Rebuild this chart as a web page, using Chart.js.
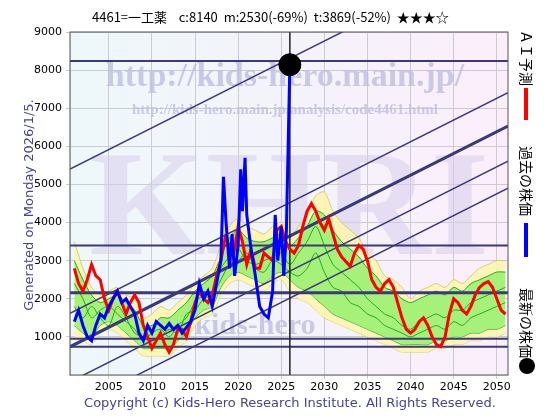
<!DOCTYPE html>
<html><head><meta charset="utf-8">
<script src="https://cdn.jsdelivr.net/npm/chart.js@4"></script>
<style>body{margin:0;background:#fff}#c{display:block}</style>
</head><body>
<div style="width:560px;height:420px"><canvas id="c" width="560" height="420"></canvas></div>
<script>
var X0 = 2000.5, X1 = 2051.3;
var xTicks = [2005, 2010, 2015, 2020, 2025, 2030, 2035, 2040, 2045, 2050];
var yTicks = [1000, 2000, 3000, 4000, 5000, 6000, 7000, 8000, 9000];

var pastYears = [2001,2001.5,2002,2002.5,2003,2003.5,2004,2004.5,2005,2005.5,2006,2006.5,2007,2007.5,2008,2008.5,2009,2009.5,2010,2010.5,2011,2011.5,2012,2012.5,2013,2013.5,2014,2014.5,2015,2015.5,2016,2016.5,2017,2017.5,2018,2018.3,2018.6,2019,2019.3,2019.6,2020,2020.3,2020.5,2020.8,2021,2021.5,2022,2022.5,2023,2023.5,2024,2024.3,2024.6,2025,2025.3,2025.6,2025.8,2026];
var pastPrice = [1400,1700,1300,1000,900,1300,1600,1500,1800,2000,2200,1900,2000,1800,1600,1100,900,1300,1100,1400,1300,1200,1350,1200,1300,1100,1250,1400,1700,2400,2000,2200,1800,2400,3000,5200,4000,2800,3700,2600,3400,5400,4300,5700,4200,3300,2600,1800,1600,1500,2200,4200,3000,3900,2600,3800,6000,8140];

var aiYears = [2001,2001.5,2002,2002.5,2003,2003.5,2004,2004.5,2005,2005.5,2006,2006.5,2007,2007.5,2008,2008.5,2009,2009.5,2010,2010.5,2011,2011.5,2012,2012.5,2013,2013.5,2014,2014.5,2015,2015.5,2016,2016.5,2017,2017.5,2018,2018.5,2019,2019.5,2020,2020.5,2021,2021.5,2022,2022.5,2023,2023.5,2024,2024.5,2025,2025.5,2026,2026.5,2027,2027.5,2028,2028.5,2029,2029.5,2030,2030.5,2031,2031.5,2032,2033,2033.5,2034,2034.5,2035,2035.5,2036,2036.5,2037,2037.5,2038,2038.5,2039,2039.5,2040,2040.5,2041,2041.5,2042,2042.5,2043,2043.5,2044,2044.5,2045,2045.5,2046,2046.5,2047,2047.5,2048,2048.5,2049,2049.5,2050,2050.5,2051];
var aiPrice = [2800,2400,2200,2500,2900,2600,2500,2000,1700,2000,2200,1900,1600,1900,2100,1900,1300,1000,700,900,1100,800,600,800,1200,1200,1000,1400,1900,2200,2000,1900,2100,2600,3000,3600,3400,3200,3900,3500,2900,3300,2800,2800,3200,3100,3000,3800,3900,3500,3300,3200,3400,3900,4300,4500,4300,4000,3800,4100,3700,3300,3100,2850,3200,3400,3300,3000,2500,2300,2200,2400,2500,2300,1900,1500,1200,1100,1200,1400,1500,1300,1000,800,750,1000,1600,2000,1900,1700,1600,1800,2100,2300,2400,2450,2300,2000,1700,1600];

var bandYears = [2001,2002,2003,2004,2005,2006,2007,2008,2009,2010,2011,2012,2013,2014,2015,2016,2017,2018,2019,2020,2021,2022,2023,2024,2025,2026,2027,2028,2029,2030,2031,2032,2033,2034,2035,2036,2037,2038,2039,2040,2041,2042,2043,2044,2045,2046,2047,2048,2049,2050,2051];
var bandHi = [3500,2800,2300,2100,2200,2300,2100,2000,1500,1600,1800,1700,1900,2100,2400,2600,2800,3400,3900,4100,3900,3800,3700,3900,4000,3600,3900,4200,4700,4800,4300,4000,3800,3600,3200,3000,2600,2500,2300,2000,2200,2300,2400,2300,2500,2400,2600,2800,2900,3000,3000];
var bandLo = [1000,900,800,1100,1200,1100,900,700,500,500,500,500,700,900,1300,1500,1600,2100,2400,2500,2400,2300,2200,2400,2500,2200,2000,1900,1700,1500,1400,1300,1200,1100,1000,900,800,700,600,600,600,600,700,700,800,800,900,900,1000,1000,1100];
var greenHi = [3000,2500,2100,1900,2000,2100,1900,1700,1300,1300,1500,1500,1700,1900,2200,2400,2600,3100,3600,3800,3600,3500,3500,3600,3700,3400,3600,3900,4300,4200,3800,3500,3300,3100,2800,2600,2300,2200,2000,1900,2000,2100,2200,2100,2300,2200,2400,2500,2600,2700,2700];
var greenLo = [1300,1100,1000,1300,1400,1300,1100,900,700,700,700,700,900,1100,1500,1700,1800,2300,2600,2700,2600,2500,2400,2600,2700,2500,2300,2200,2000,1800,1600,1500,1400,1300,1200,1100,1000,900,800,800,800,800,900,900,1000,1000,1100,1100,1200,1200,1300];
var greenLineA = [2400,2000,1500,1700,1800,1600,1400,1200,900,1100,1200,1000,1300,1500,1900,2100,2200,2800,3100,3300,3000,2900,3000,3100,3200,2900,3200,3500,3900,3400,2900,2700,2500,2300,2000,1800,1600,1500,1300,1200,1400,1500,1600,1500,1700,1700,1900,2000,2100,2200,2300];
var greenLineB = [1800,1500,1800,1500,1300,1800,1500,1100,1000,900,1000,1200,1100,1600,1700,2000,2100,2500,2900,3000,3200,2800,2700,3000,2900,2700,2600,2800,3200,2700,2300,2200,1900,1800,1600,1500,1300,1200,1100,1000,1100,1200,1300,1200,1400,1300,1500,1600,1700,1800,1900];

var hLevels = [8240, 3400, 2160, 950, 740];
var hWidths = [2, 2, 3, 2, 2];
var trendBase = 740, trendSlope = 114;
var trendOffsets = [4660, 880, 0, -920, -1630];
var lastYear = 2026, lastPrice = 8140;

function pts(xs, ys) { return xs.map(function (x, i) { return { x: x, y: ys[i] }; }); }

// higher order = drawn further back
var datasets = [];
datasets.push({ order: 20, data: pts(bandYears, bandHi), borderWidth: 0.8, borderColor: '#c8c860', backgroundColor: 'rgba(255,245,170,0.85)', fill: '+1', pointRadius: 0, tension: 0.3 });
datasets.push({ order: 20, data: pts(bandYears, bandLo), borderWidth: 0.8, borderColor: '#c8c860', pointRadius: 0, tension: 0.3 });
datasets.push({ order: 15, data: pts(bandYears, greenHi), borderWidth: 1, borderColor: '#22aa22', backgroundColor: 'rgba(150,240,110,0.85)', fill: '+1', pointRadius: 0, tension: 0.3 });
datasets.push({ order: 15, data: pts(bandYears, greenLo), borderWidth: 1, borderColor: '#22aa22', pointRadius: 0, tension: 0.3 });
datasets.push({ order: 12, data: pts(bandYears, greenLineA), borderWidth: 1, borderColor: '#22aa22', pointRadius: 0, tension: 0.3 });
datasets.push({ order: 12, data: pts(bandYears, greenLineB), borderWidth: 1, borderColor: '#22aa22', pointRadius: 0, tension: 0.3 });
hLevels.forEach(function (v, i) {
    datasets.push({ order: 8, data: [{ x: X0, y: v }, { x: X1, y: v }], borderColor: '#3a3a7a', borderWidth: hWidths[i], pointRadius: 0 });
});
trendOffsets.forEach(function (o) {
    datasets.push({ order: 8, data: [{ x: X0, y: trendBase + o }, { x: X1, y: trendBase + o + trendSlope * (X1 - X0) }],
        borderColor: '#3a3a7a', borderWidth: o == 0 ? 3 : 1.5, pointRadius: 0 });
});
datasets.push({ order: 5, data: [{ x: lastYear, y: 0 }, { x: lastYear, y: 9000 }], borderColor: '#222', borderWidth: 1.5, pointRadius: 0 });
datasets.push({ order: 3, data: pts(aiYears, aiPrice), borderColor: '#ff0000', borderWidth: 3, pointRadius: 0 });
datasets.push({ order: 2, data: pts(pastYears, pastPrice), borderColor: '#0000ff', borderWidth: 3, pointRadius: 0 });
datasets.push({ order: 1, data: [{ x: lastYear, y: lastPrice }], backgroundColor: '#000', borderColor: '#000', pointRadius: 11, showLine: false });

var decor = {
    id: 'decor',
    beforeDatasetsDraw: function (chart) {
        var c = chart.ctx, a = chart.chartArea;
        c.save();
        c.beginPath(); c.rect(a.left, a.top, a.right - a.left, a.bottom - a.top); c.clip();
        c.fillStyle = 'rgba(215,205,235,0.55)';
        c.font = 'bold 150px "Liberation Serif"';
        c.textAlign = 'center'; c.textBaseline = 'middle';
        c.fillText('KHRI', (a.left + a.right) / 2, 215);
        c.font = 'bold 34px "Liberation Serif"';
        c.fillStyle = 'rgba(190,190,225,0.8)';
        c.fillText('http://kids-hero.main.jp/', 285, 77);
        c.font = 'bold 15px "Liberation Serif"';
        c.fillText('http://kids-hero.main.jp/analysis/code4461.html', 285, 110);
        c.font = 'bold 30px "Liberation Serif"';
        c.fillText('kids-hero', 255, 326);
        c.restore();
    },
    beforeDraw: function (chart) {
        var c = chart.ctx, a = chart.chartArea;
        var g = c.createLinearGradient(a.left, 0, a.right, 0);
        g.addColorStop(0, '#eef8fb'); g.addColorStop(1, '#fbeefb');
        c.fillStyle = g;
        c.fillRect(a.left, a.top, a.right - a.left, a.bottom - a.top);
    },
    afterDraw: function (chart) {
        var c = chart.ctx, a = chart.chartArea;
        c.save();
        c.strokeStyle = '#555'; c.lineWidth = 1;
        c.strokeRect(a.left, a.top, a.right - a.left, a.bottom - a.top);
        c.fillStyle = '#000'; c.textBaseline = 'middle'; c.textAlign = 'left';
        c.font = '13px "Noto Sans CJK JP"';
        c.fillText('4461=一工薬    c:8140  m:2530(-69%)  t:3869(-52%)  ★★★☆', 92, 17);
        c.fillStyle = '#44449a'; c.textAlign = 'center';
        c.font = '13px "DejaVu Sans"';
        c.fillText('Copyright (c) Kids-Hero Research Institute. All Rights Reserved.', 290, 404);
        c.save();
        c.translate(30, 205); c.rotate(-Math.PI / 2);
        c.font = '13px "DejaVu Sans"';
        c.fillText('Generated on Monday 2026/1/5.', 0, 0);
        c.restore();
        // legend
        c.font = '14px "Noto Sans CJK JP"'; c.fillStyle = '#000';
        function vtext(t, x, y) { c.save(); c.translate(x, y); c.rotate(Math.PI / 2); c.textAlign = 'left'; c.fillText(t, 0, 0); c.restore(); }
        vtext('ＡＩ予測', 526, 30);
        c.fillStyle = '#ff0000'; c.fillRect(524, 88, 4, 32);
        c.fillStyle = '#000';
        vtext('過去の株価', 526, 146);
        c.fillStyle = '#0000ff'; c.fillRect(524, 223, 4, 34);
        c.fillStyle = '#000';
        vtext('最新の株価', 526, 288);
        c.beginPath(); c.arc(527, 366, 8, 0, Math.PI * 2); c.fill();
        c.restore();
    }
};

new Chart('c', {
    type: 'line',
    data: { datasets: datasets },
    options: {
        responsive: false, animation: false,
        layout: { padding: { top: 32, right: 52, left: 0, bottom: 0 } },
        plugins: { legend: { display: false }, tooltip: { enabled: false } },
        scales: {
            x: {
                type: 'linear', min: X0, max: X1,
                afterBuildTicks: function (s) { s.ticks = xTicks.map(function (v) { return { value: v }; }); },
                afterFit: function (s) { s.height = 45; },
                ticks: { color: '#000', font: { size: 11, family: 'DejaVu Sans' }, maxRotation: 0, padding: 2, callback: function (v) { return String(v); } },
                grid: { color: '#ccc', tickLength: 4 }
            },
            y: {
                min: 0, max: 9000,
                afterBuildTicks: function (s) { s.ticks = yTicks.map(function (v) { return { value: v }; }); },
                afterFit: function (s) { s.width = 70; },
                ticks: { color: '#000', font: { size: 11, family: 'DejaVu Sans' }, padding: 4, callback: function (v) { return String(v); } },
                grid: { color: '#ccc', tickLength: 4 }
            }
        }
    },
    plugins: [decor]
});
</script>
</body></html>
